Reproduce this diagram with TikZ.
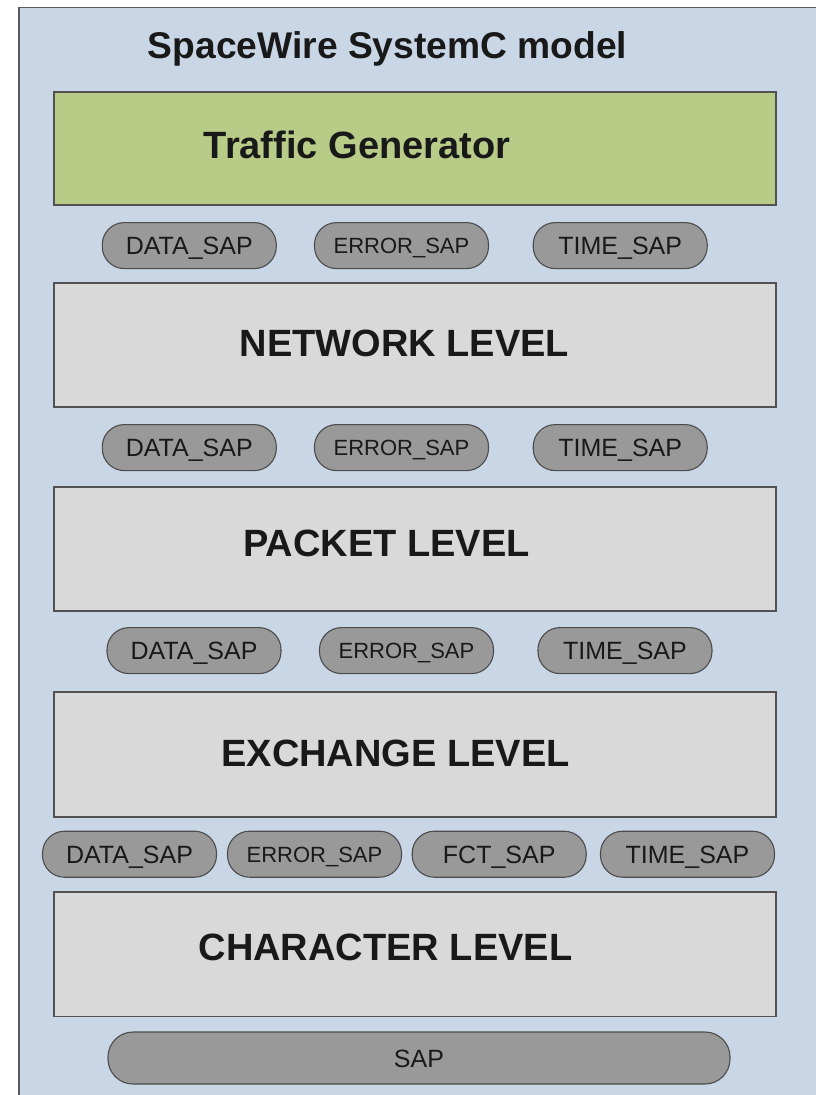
\documentclass[tikz,border=0pt]{standalone}
\usepackage{fontspec}
\setmainfont{Liberation Sans}
\begin{document}
\begin{tikzpicture}[x=1pt,y=1pt,
  frame/.style={draw=black!65,line width=1.6pt,fill=modelbg},
  levelbox/.style={draw=black!68,line width=1.8pt,fill=levelgray,minimum width=722pt,inner sep=0pt,anchor=north west},
  genbox/.style={levelbox,fill=gengreen},
  leveltext/.style={font=\fontsize{38}{40}\selectfont\bfseries,text=black!90,anchor=base,inner sep=0pt},
  titletext/.style={leveltext,font=\fontsize{37.2}{40}\selectfont\bfseries},
  pill/.style={draw=black!70,line width=1.1pt,fill=sapgray,rounded corners=22pt,
    minimum width=174pt,minimum height=46pt,inner sep=0pt,text height=18pt,text depth=0pt,
    font=\fontsize{25}{27}\selectfont,text=black!90},
  pillnarrow/.style={pill,text height=15.8pt,font=\fontsize{22}{24}\selectfont}]
\definecolor{modelbg}{RGB}{201,214,230}
\definecolor{gengreen}{RGB}{184,204,136}
\definecolor{levelgray}{RGB}{217,217,217}
\definecolor{sapgray}{RGB}{153,153,153}
\useasboundingbox (0,0) rectangle (816,-1095);
\fill[white] (0,0) rectangle (816,-1095);

% outer model frame, running off the right and bottom edges
\node[frame,minimum width=820pt,minimum height=1100pt,inner sep=0pt,anchor=north west] (model) at (18.3,-6.7) {};
\node[titletext] (title) at (387.5,-58) {SpaceWire SystemC model};

% layers
\node[genbox,minimum height=113pt] (gen) at (53.3,-91) {};
\node[leveltext] (genlbl) at (357,-158) {Traffic Generator};

\node[levelbox,minimum height=124pt] (net) at (53.3,-282) {};
\node[leveltext] (netlbl) at (404.5,-356) {NETWORK LEVEL};

\node[levelbox,minimum height=124pt] (pkt) at (53.3,-486) {};
\node[leveltext] (pktlbl) at (386.5,-556) {PACKET LEVEL};

\node[levelbox,minimum height=125pt] (exc) at (53.3,-691) {};
\node[leveltext] (exclbl) at (395.5,-766) {EXCHANGE LEVEL};

\node[levelbox,minimum height=124.5pt] (chr) at (53.3,-891) {};
\node[leveltext] (chrlbl) at (385.5,-960) {CHARACTER LEVEL};

% service access points between generator and network level
\node[pill] (d1) at (189.3,-245.6) {DATA\_SAP};
\node[pillnarrow] (e1) at (401.5,-245.6) {ERROR\_SAP};
\node[pill] (t1) at (620.2,-245.6) {TIME\_SAP};

% between network and packet level
\node[pill] (d2) at (189.3,-447.6) {DATA\_SAP};
\node[pillnarrow] (e2) at (401.5,-447.6) {ERROR\_SAP};
\node[pill] (t2) at (620.2,-447.6) {TIME\_SAP};

% between packet and exchange level
\node[pill] (d3) at (194,-650.6) {DATA\_SAP};
\node[pillnarrow] (e3) at (406.5,-650.6) {ERROR\_SAP};
\node[pill] (t3) at (625,-650.6) {TIME\_SAP};

% between exchange and character level
\node[pill] (d4) at (129.5,-854.2) {DATA\_SAP};
\node[pillnarrow] (e4) at (314.5,-854.2) {ERROR\_SAP};
\node[pill] (f4) at (499.2,-854.2) {FCT\_SAP};
\node[pill] (t4) at (687.5,-854.2) {TIME\_SAP};

% physical access point
\node[pill,minimum width=622pt,minimum height=52pt,rounded corners=25pt] (sap) at (419,-1058) {SAP};
\end{tikzpicture}
\end{document}
